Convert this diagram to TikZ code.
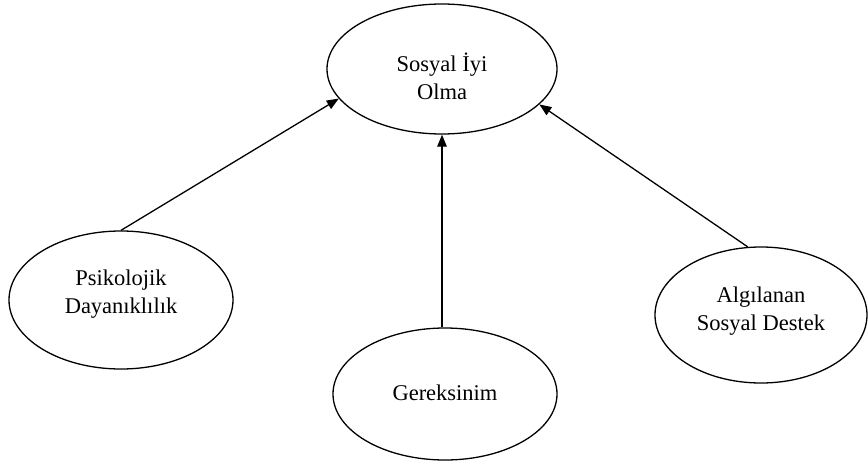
\documentclass[tikz,border=0pt]{standalone}
\usepackage{fontspec}
\setmainfont{Liberation Serif}
\usetikzlibrary{shapes.geometric,arrows.meta}
\begin{document}
\begin{tikzpicture}[x=1pt,y=-1pt,
  oval/.style={draw, line width=1.3pt, ellipse, inner sep=0pt,
               minimum width=#1},
  oval/.default=224pt,
  txt/.style={align=center, font=\fontsize{22.5}{28}\selectfont},
  link/.style={line width=1.3pt, -{Triangle[length=12pt,width=9.5pt]}}]
  \useasboundingbox (0,0) rectangle (868,463);

  % outcome at the top
  \node[oval=230pt, minimum height=130pt,
        label={[txt, yshift=-7.5pt]center:{Sosyal İyi\\Olma}}]
        (iyi) at (442,69) {};

  % the three predictors
  \node[oval=224pt, minimum height=138pt,
        label={[txt, yshift=6pt]center:{Psikolojik\\Dayanıklılık}}]
        (psy) at (121,300) {};
  \node[oval=224pt, minimum height=132pt,
        label={[txt, yshift=1.5pt]center:{Gereksinim}}]
        (ger) at (445,394) {};
  \node[oval=212pt, minimum height=136pt,
        label={[txt, yshift=4pt]center:{Algılanan\\Sosyal Destek}}]
        (des) at (761,315) {};

  % paths into the outcome
  \draw[link] (psy.north) -- (iyi.196);
  \draw[link] (ger.north -| iyi.south) -- (iyi.south);
  \draw[link] (des.101) -- (iyi.340);
\end{tikzpicture}
\end{document}
